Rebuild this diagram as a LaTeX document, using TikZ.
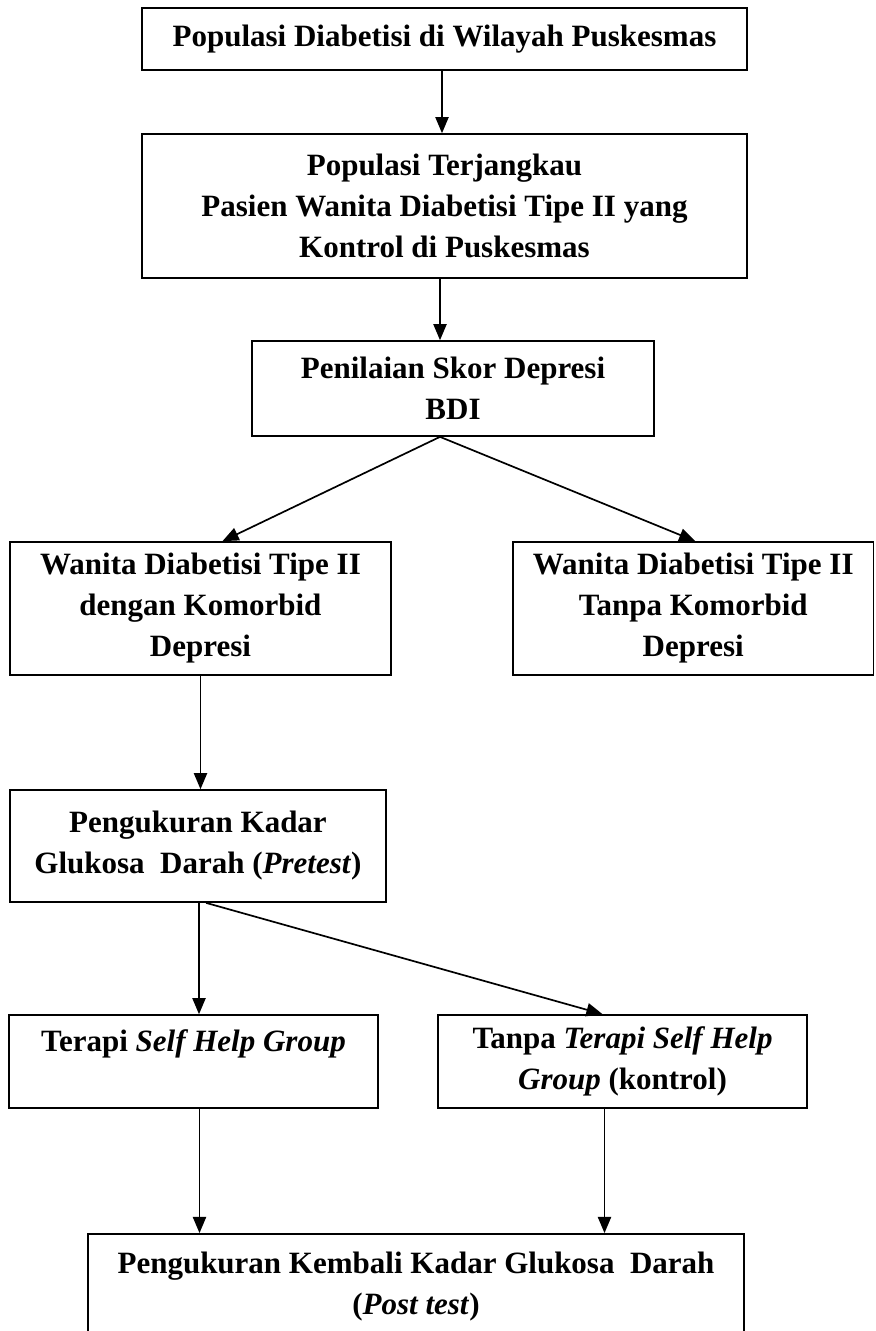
\documentclass[tikz,border=0pt]{standalone}
\usepackage{fontspec}
\setmainfont{Liberation Serif}
\usepackage{tikz}
\usetikzlibrary{arrows}

\begin{document}
\begin{tikzpicture}[>=triangle 45,x=0.5pt,y=-0.5pt,
		box/.style={draw,line width=0.85pt,align=center,inner sep=0pt,
			font=\bfseries\fontsize{15.5}{20.5}\selectfont},
		link/.style={->,line width=0.85pt}]
		\useasboundingbox (0,0) rectangle (875,1331);
		% boxes
		\node[box,minimum width=302.5pt,minimum height=31pt] (populasi) at (444.5,39) {Populasi Diabetisi di Wilayah Puskesmas};
		\node[box,minimum width=302.5pt,minimum height=72pt] (terjangkau) at (444.5,206) {Populasi Terjangkau\\Pasien Wanita Diabetisi Tipe II yang\\Kontrol di Puskesmas};
		\node[box,minimum width=201pt,minimum height=47.5pt] (bdi) at (453,388.5) {Penilaian Skor Depresi\\BDI};
		\node[box,minimum width=190.5pt,minimum height=66.5pt] (komorbid) at (200.5,608.5) {Wanita Diabetisi Tipe II\\dengan Komorbid\\Depresi};
		\node[box,minimum width=180.25pt,minimum height=66.5pt] (tanpa) at (693.25,608.5) {Wanita Diabetisi Tipe II\\Tanpa Komorbid\\Depresi};
		\node[box,minimum width=188pt,minimum height=56pt] (pretest) at (198,846) {Pengukuran Kadar\\Glukosa\ \ Darah (\textit{Pretest})};
		\node[box,minimum width=184.5pt,minimum height=46.5pt] (shg) at (193.5,1061.5) {Terapi \textit{Self Help Group}\\\mbox{}};
		\node[box,minimum width=184.5pt,minimum height=46.5pt] (kontrol) at (622.5,1061.5) {Tanpa \textit{Terapi Self Help}\\\textit{Group} (kontrol)};
		\node[box,minimum width=328pt,minimum height=53pt,anchor=north] (posttest) at (416,1233) {Pengukuran Kembali Kadar Glukosa\ \ Darah\\(\textit{Post test})};
		% arrows
		\draw[link] (populasi.south -| 442,0) -- (terjangkau.north -| 442,0);
		\draw[link] (terjangkau.south -| 440,0) -- (bdi.north -| 440,0);
		\draw[link] (bdi.south -| 440,0) -- ([xshift=11pt]komorbid.north);
		\draw[link] (bdi.south -| 440,0) -- ([xshift=1pt]tanpa.north);
		\draw[link] (komorbid.south) -- (komorbid.south |- pretest.north);
		\draw[link] ([xshift=0.5pt]pretest.south) -- ([xshift=0.5pt]pretest.south |- shg.north);
		\draw[link] ([xshift=4pt]pretest.south) -- ([xshift=-10pt]kontrol.north);
		\draw[link] ([xshift=3pt]shg.south) -- ([xshift=3pt]shg.south |- posttest.north);
		\draw[link] ([xshift=-9pt]kontrol.south) -- ([xshift=-9pt]kontrol.south |- posttest.north);
	\end{tikzpicture}
\end{document}
